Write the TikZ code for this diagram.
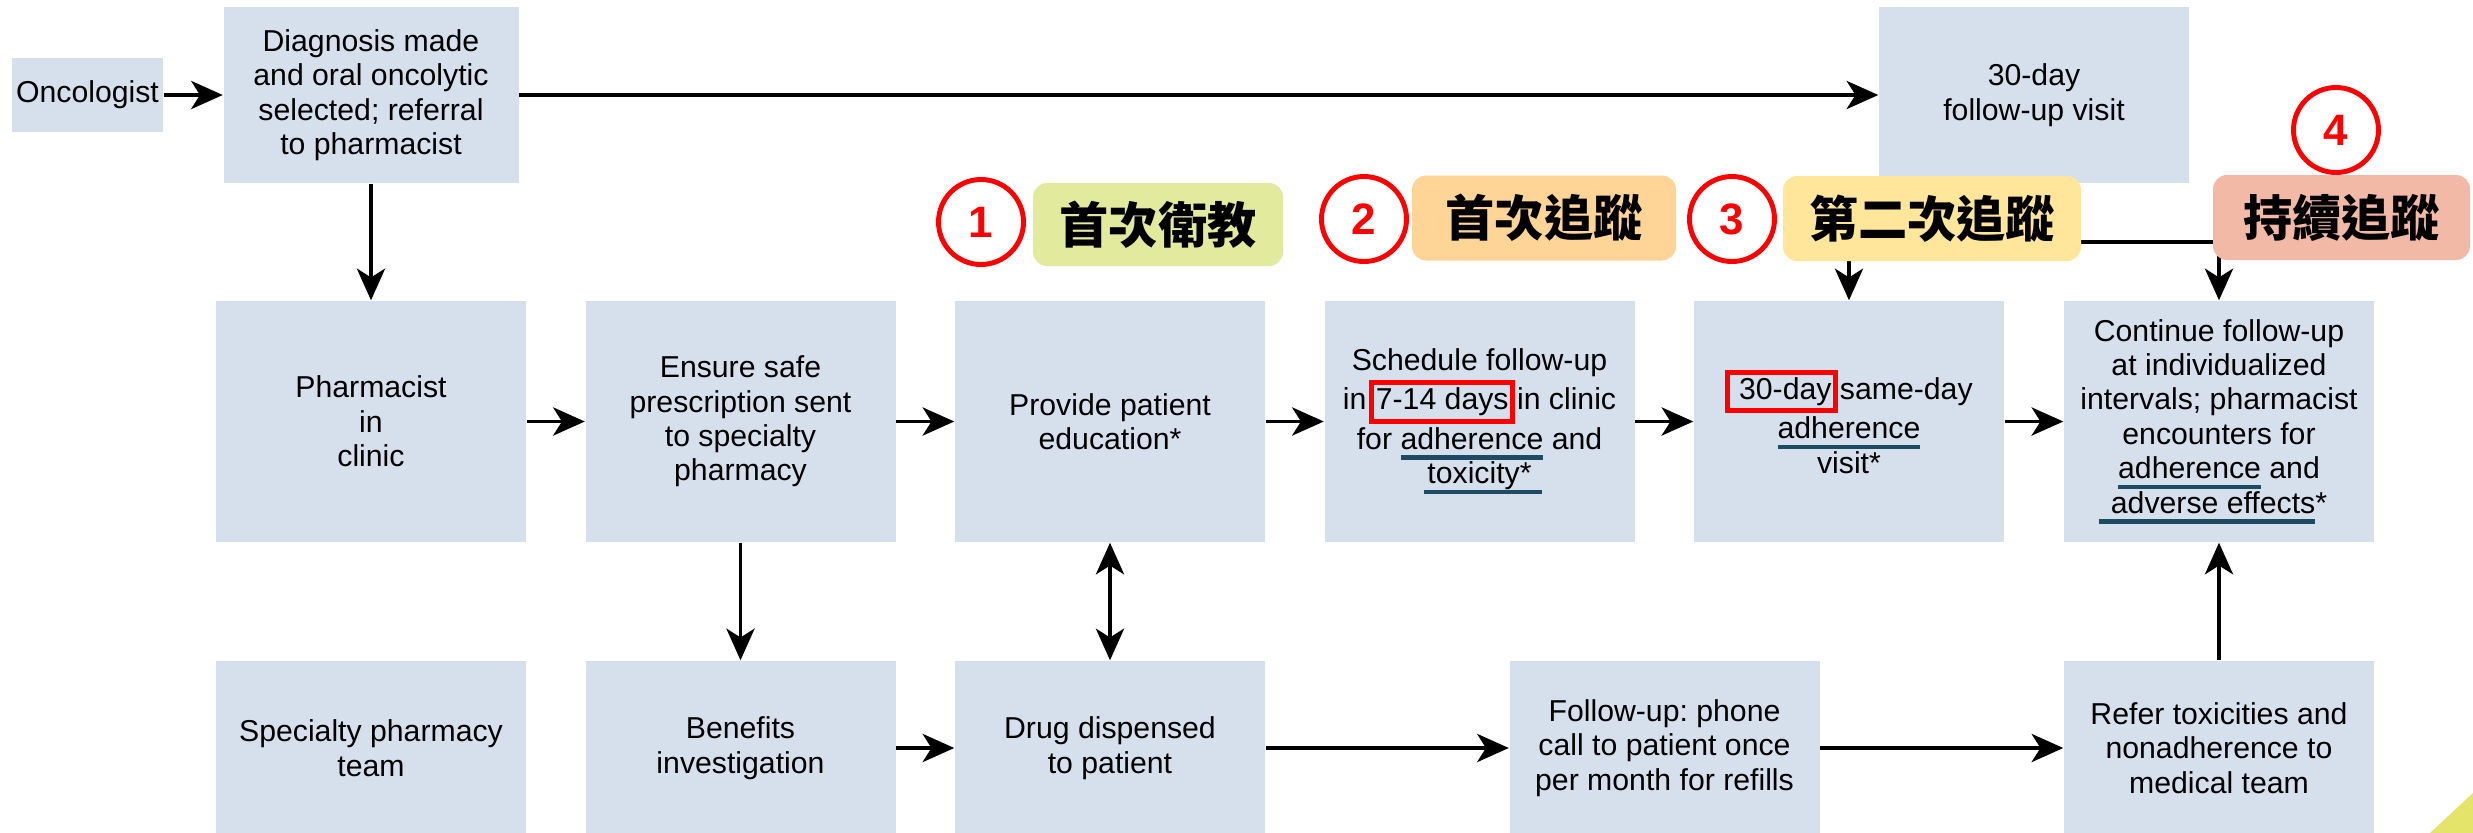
\documentclass[tikz,border=0pt]{standalone}
\usepackage{fontspec}
\setmainfont{Liberation Sans}
\newfontfamily\cjk{Noto Sans CJK TC}
\usetikzlibrary{arrows.meta}
\definecolor{boxfill}{HTML}{D6DFEC}
\definecolor{labA}{HTML}{E2EA9E}
\definecolor{labB}{HTML}{FED497}
\definecolor{labC}{HTML}{FFE69A}
\definecolor{labD}{HTML}{F2B9A7}
\definecolor{ulcol}{HTML}{1F4A64}
\definecolor{cornercol}{HTML}{E4E46A}
\newsavebox\ulbox
\newcommand\ulx[3]{\sbox\ulbox{#3}\leavevmode\rlap{\kern-#1\textcolor{ulcol}{\rule[-3pt]{\dimexpr\wd\ulbox+#1+#2\relax}{1.3pt}}}\usebox\ulbox}
\tikzset{redframe/.style={shape=rectangle, draw=red, fill=none, line width=1.4pt, inner xsep=1.2pt, inner ysep=1.5pt, outer sep=0pt, minimum width=0pt, minimum height=0pt, sharp corners, anchor=center}}
\newcommand\rbox[1]{\tikz[baseline=(rbx.base)]\node[redframe](rbx){#1};}
\frenchspacing
\begin{document}
\begin{tikzpicture}[x=0.1mm,y=-0.1mm,
  box/.style={shape=rectangle, fill=boxfill, draw=none, inner sep=0pt, align=center,
    font=\frenchspacing\fontsize{8.6}{9.8}\selectfont, minimum width=31mm, minimum height=24.1mm},
  arr/.style={line width=1.1pt, -{Stealth[length=9pt,width=8pt,inset=2.5pt]}},
  darr/.style={line width=1.1pt, {Stealth[length=9pt,width=8pt,inset=2.5pt]}-{Stealth[length=9pt,width=8pt,inset=2.5pt]}},
  plain/.style={line width=1.1pt},
  lab/.style={shape=rectangle, rounded corners=1.4mm, draw=none, inner sep=0pt,
    font=\cjk\bfseries\fontsize{14}{16}\selectfont, minimum height=8.5mm},
  num/.style={shape=circle, draw=red, line width=1.4pt, fill=white, inner sep=0pt,
    minimum size=8.5mm, text=red, font=\bfseries\fontsize{12.5}{14}\selectfont}
]
\useasboundingbox (0,0) rectangle (2473,833);
% row 1
\node[box, minimum width=15.1mm, minimum height=7.4mm] (onc) at (87.5,95) {Oncologist};
\node[box, minimum width=29.5mm, minimum height=17.6mm] (diag) at (371,95) {Diagnosis made\\and oral oncolytic\\selected; referral\\to pharmacist};
\node[box, minimum height=17.6mm] (thirty) at (2034,95) {30-day\\follow-up visit};
% row 2
\node[box] (pharm) at (371,421.5) {Pharmacist\\in\\clinic};
\node[box] (ensure) at (740.5,421.5) {Ensure safe\\prescription sent\\to specialty\\pharmacy};
\node[box] (provide) at (1110,421.5) {Provide patient\\education*};
\node[box] (sched) at (1479.5,421.5) {Schedule follow-up\\in\hspace{0.8pt}\rbox{7-14 days}\hspace{0.5pt}in clinic\\for \ulx{0pt}{0pt}{adherence} and\\\ulx{1pt}{3pt}{toxicity*}};
\node[box] (same) at (1849,421.5) {\rbox{\hspace{2pt}30-day}\hspace{0.5pt}same-day\\\ulx{0pt}{0pt}{adherence}\\visit*};
\node[box] (cont) at (2219,421.5) {Continue follow-up\\at individualized\\intervals; pharmacist\\encounters for\\\ulx{0pt}{0pt}{adherence} and\\\ulx{3.5pt}{0pt}{adverse effects}*};
% row 3
\node[box, minimum height=17.4mm] (spec) at (371,748) {Specialty pharmacy\\team};
\node[box, minimum height=17.4mm] (ben) at (740.5,748) {Benefits\\investigation};
\node[box, minimum height=17.4mm] (drug) at (1110,748) {Drug dispensed\\to patient};
\node[box, minimum height=17.4mm] (phone) at (1664.5,748) {Follow-up: phone\\call to patient once\\per month for refills};
\node[box, minimum height=17.4mm] (refer) at (2219,748) {Refer toxicities and\\nonadherence to\\medical team};
% connectors
\draw[arr] (onc) -- (diag);
\draw[arr] (diag) -- (thirty);
\draw[arr] (diag) -- (pharm);
\draw[arr] (pharm) -- (ensure);
\draw[arr] (ensure) -- (provide);
\draw[arr] (provide) -- (sched);
\draw[arr] (sched) -- (same);
\draw[arr] (same) -- (cont);
\draw[arr] (ensure) -- (ben);
\draw[darr] (provide) -- (drug);
\draw[arr] (ben) -- (drug);
\draw[arr] (drug) -- (phone);
\draw[arr] (phone) -- (refer);
\draw[arr] (refer) -- (cont);
\coordinate (sp) at (2034,242);
\draw[plain] (thirty.south) -- (sp);
\draw[arr] (sp) -| (same.north);
\draw[arr] (sp) -| (cont.north);
% stage labels
\node[lab, fill=labA, minimum width=25mm, minimum height=8.3mm] (l1) at (1158,224.5) {首次衛教};
\node[lab, fill=labB, minimum width=26.4mm] (l2) at (1544,218) {首次追蹤};
\node[lab, fill=labC, minimum width=29.8mm] (l3) at (1932,218.5) {第二次追蹤};
\node[lab, fill=labD, minimum width=25.7mm] (l4) at (2341.5,217.5) {持續追蹤};
\node[num] (c1) at (981,222) {1};
\node[num] (c2) at (1364,219) {2};
\node[num] (c3) at (1732,219) {3};
\node[num] (c4) at (2336,130) {4};
% corner mark
\fill[cornercol] (2430,833) -- (2473,793) -- (2473,833) -- cycle;
\end{tikzpicture}
\end{document}
